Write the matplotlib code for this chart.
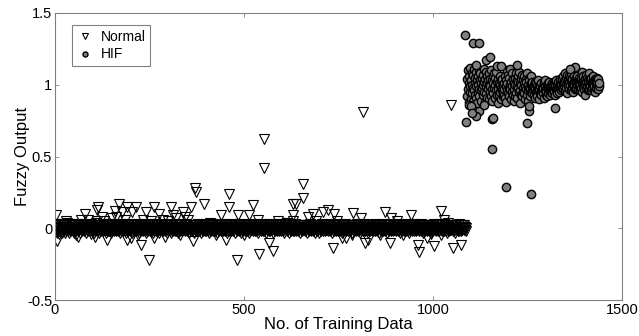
import numpy as np
import matplotlib
matplotlib.use('Agg')
import matplotlib.pyplot as plt

plt.rcParams['font.family'] = ['Liberation Sans', 'DejaVu Sans']

# Normal: dense band around 0, one value per sample (in hundredths)
normal_band = np.array([
    2, -1, 0, 3, -2, 1, -3, 0, 2, -1, 1, -4, 2, 0, -2, 3, -1, 1, 0, -3, 1, 2, -2, 0, 3, -1, -3, 1, 0, 2,
    -2, 1, 4, -1, 0, -2, 2, 1, -3, 0, 1, -1, 2, -2, 0, 3, -1, 1, -2, 0, 2, -3, 1, 0, -1, 2, -2, 1, 0, -1,
    3, 0, -2, 1, -1, 2, 0, -3, 1, 2, -1, 0, -2, 1, 3, -1, 0, 2, -2, -1, 1, 0, -3, 2, 1, -1, 0, 2, -2, 1,
    0, -1, 2, -2, 1, 3, 0, -1, -2, 1, 2, 0, -3, 1, -1, 2, 0, -2, 4, -1, 1, 0, -2, 2, -1, 1, 0, -3, 2, 0,
    -1, 1, 2, -2, 0, 1, -1, 3, -2, 0, 2, -1, 1, 0, -3, 2, -1, 0, 1, -2, 3, 0, -1, 2, -2, 1, 0, -1, 2, -3,
    1, 0, -2, 2, -1, 0, 3, -2, 1, -1, 0, 2, -2, 1, 0, -1, 3, -2, 0, 1, -1, 2, -3, 0, 1, -2, 2, 0, -1, 1,
    -2, 3, 0, -1, 2, -2, 1, 0, -3, 2, -1, 1, 0, 2, -2, -1, 1, 3, 0, -2, 1, -1, 2, 0, -3, 1, 0, 2, -1, -2,
    2, 0, -1, 1, -2, 3, -1, 0, 2, -2, 1, -3, 0, 2, -1, 1, 0, -2, 2, -1, 0, 3, -2, 1, -1, 0, 2, -2, 1, 0,
    -1, 2, -3, 1, 0, -2, 2, -1, 1, 0, -2, 3, -1, 0, 1, -2, 2, 0, -1, -3, 1, 2, 0, -2, 1, -1, 3, 0, -2, 1,
    0, -2, 1, 2, -1, 0, -3, 2, 1, -1, 0, 2, -2, 1, -1, 0, 3, -2, 1, 0, -1, 2, -2, 0, 1, -3, 2, -1, 0, 1,
    1, -1, 0, 2, -2, 1, 0, -3, 2, -1, 0, 1, -2, 3, 0, -1, 1, -2, 0, 2, -2, 0, 1, -1, 2, -3, 0, 1, -1, 2,
    0, -2, 1, -1, 3, 0, -2, 1, 0, -1, 0, 2, -1, 1, -2, 0, 3, -1, 0, -2, 2, 1, -1, 0, -3, 1, 2, -1, 0, 1,
    -1, 1, 0, -2, 2, -1, 0, 1, -3, 2, 0, -1, 2, -2, 1, 0, -1, 3, -2, 0, 1, 0, -2, 2, -1, 0, 1, -3, 2, 0,
    -1, 1, -2, 2, 0, -1, 3, -2, 1, 0, -2, 1, 0, -1, 2, -2, 1, 0, -3, 2, -1, 1, 0, -2, 2, -1, 0, 1, -2, 3,
    0, -1, 2, -2, 1, 0, -1, 2, -3, 1, 0, 2, -1, -2, 1, 0, 2, -1, 0, -2, 1, -1, 2, 0, -2, 1, -1, 3, 0, -2,
    1, -1, 2, 0, -3, 1, 0, 2, -1, 1, -2, 0, 1, 2, -1, 0, -2, 3, 1, -1, 0, -2, 2, 1, -1, 0, -3, 2, 0, 1,
    2, -2, 0, 1, -1, 3, 0, -2, 1, -1, 2, 0, -3, 1, 0, -1, 2, -2, 0, 1, -1, 2, 0, -2, 1, 0, -1, 3, -2, 0,
    1, -1, 2, -3, 1, 0, -2, 2, -1, 0, -1, 0, 1, -2, 2, 0, -1, 3, -2, 1, 0, -1, 2, -2, 0, 1, -3, 2, -1, 0,
    0, 1, -1, 2, -2, 0, 1, -1, 3, -2, 0, 1, -2, 2, -1, 0, 1, -3, 2, 0, -1, 2, -1, 0, 1, -2, 3, -1, 0, 2,
    -2, 0, 1, -1, 2, 0, -3, 1, 2, -1, 0, -2, 1, 0, 2, -1, 3, -2, 0, 1, -1, 0, 2, -2, 1, -1, 0, 3, -2, 1,
    1, 0, -1, 2, -2, 1, 0, -3, 1, 2, -1, 0, 2, -2, 1, 0, -1, 2, -3, 0, 1, -1, 2, 0, -2, 1, 3, -1, 0, -2,
    -1, 2, 0, -2, 1, -1, 3, 0, -2, 1, 0, -1, 2, -2, 0, 1, -1, 2, -3, 1, 0, 2, -1, 0, -2, 1, -1, 2, 0, -1,
    0, -2, 2, 1, -1, 0, -3, 2, 0, 1, -1, 2, -2, 0, 1, 3, -1, 0, -2, 2, -1, 1, 0, -2, 2, 0, -1, 1, -3, 2,
    2, -1, 0, 1, -2, 2, 0, -1, 1, -3, 0, 2, -1, 1, 0, -2, 3, -1, 0, 1, -2, 2, 0, -1, 2, -2, 1, 0, -1, 2,
    -1, 0, 2, -2, 1, 0, -1, 3, -2, 0, 1, -1, 2, 0, -3, 1, -1, 2, 0, -2, 1, 0, -1, 2, -2, 3, 0, -1, 1, -2,
    0, 2, -1, 1, -2, 0, 1, -1, 2, -3, 1, 0, -1, 2, -2, 0, 1, 3, -1, -2, 0, 1, -1, 2, 0, -2, 1, -1, 2, 0,
    1, -2, 0, 2, -1, 1, -3, 0, 2, -1, 0, 1, -2, 2, 0, -1, 1, -2, 3, 0, -1, 2, -2, 1, 0, -1, 2, 0, -3, 1,
    -2, 1, 0, -1, 2, -2, 1, 3, -1, 0, -2, 1, 2, -1, 0, 1, -2, 0, 2, -3, 1, 0, -1, 2, -2, 1, 0, -1, 2, -1,
    0, 1, -2, 2, -1, 0, 3, -2, 1, -1, 0, 2, -1, -2, 1, 0, 2, -3, 1, 0, -1, 2, -2, 0, 1, -1, 3, -2, 0, 1,
    1, -1, 2, 0, -2, 1, -1, 0, 2, -3, 1, 0, -1, 2, -2, 1, 0, 3, -1, -2, 0, 1, -1, 2, 0, -2, 1, -1, 2, 0,
    -1, 2, -2, 0, 1, -1, 3, 0, -2, 1, -1, 2, 0, -3, 1, 2, -1, 0, 1, -2, 2, -1, 0, 1, -2, 3, 0, -1, 2, -2,
    0, -1, 1, 2, -2, 0, 1, -3, 2, -1, 0, 1, -1, 2, -2, 0, 3, -1, 1, 0, -2, 2, -1, 0, 1, -2, 2, 0, -1, 1,
    2, 0, -2, 1, -1, 2, 0, -1, 3, -2, 0, 1, -1, 2, -3, 0, 1, 2, -1, 0, -2, 1, 0, -1, 2, -2, 1, 0, -1, 2,
    -2, 1, 0, -1, 2, 0, -3, 1, -1, 2, 0, -2, 1, 3, -1, 0, 1, -2, 2, -1, 0, 1, -2, 2, 0, -1, 3, -2, 1, 0,
    1, -1, 0, 2, -2, 1, -1, 0, 3, -2, 1, 0, -1, 2, -2, 0, 1, -3, 2, 0, -1, 1, 2, -2, 0, 1, -1, 2, -1, 0,
    0, 2, -1, 1, -2, 0, 1, -1, 2, -3, 1, 0, 2, -1, 0, -2, 1, -1, 3, 0, -2, 1, 0, -1, 2, -2, 1, 0, -1, 2,
    1, -1, 0, 2, -1, 1, 0, -2]) / 100.0

# Normal: scattered points away from the band
normal_out_x = [2, 4, 80, 115, 112, 88, 112, 106, 170, 191, 214, 178, 205, 240, 161,
                138, 191, 200, 227, 249, 262, 275, 262, 290, 307, 312, 338, 360, 364,
                371, 372, 395, 439, 461, 461, 483, 452, 481, 513, 523, 536, 552, 554,
                565, 541, 576, 630, 638, 656, 656, 630, 630, 670, 683, 708, 721, 739,
                788, 872, 810, 888, 943, 1022, 1030, 1040, 735, 760, 769, 785, 819, 829,
                885, 920, 963, 960, 985, 1002, 1022, 1053, 1075, 815, 1047,
                30, 55, 70, 95, 130, 150, 185, 220, 255, 285, 320, 345, 330, 60, 125,
                158, 232, 300, 352, 410, 425, 500, 590, 615, 690, 745, 860, 905, 995]
normal_out_y = [0.09, -0.09, 0.10, 0.15, 0.125, 0.06, 0.05, -0.06, 0.17, 0.15, 0.15, 0.11,
                0.11, 0.11, 0.08, -0.08, -0.08, -0.07, -0.12, -0.22, 0.15, 0.10, -0.07,
                -0.06, 0.15, 0.09, 0.11, 0.15, -0.09, 0.28, 0.25, 0.17, 0.09, 0.24, 0.15,
                0.09, -0.08, -0.22, 0.09, 0.16, 0.06, 0.62, 0.42, -0.10, -0.18, -0.16,
                0.17, 0.17, 0.31, 0.21, 0.09, 0.05, 0.08, 0.10, 0.11, 0.13, 0.10, 0.105,
                0.11, 0.07, 0.07, 0.09, 0.12, 0.06, 0.04, -0.14, -0.07, -0.07, -0.05,
                -0.10, -0.085, -0.10, -0.05, -0.165, -0.12, -0.07, -0.125, -0.05,
                -0.14, -0.12, 0.81, 0.86,
                0.05, -0.05, 0.06, -0.04, 0.05, 0.07, 0.06, -0.05, 0.05, 0.06, 0.07, 0.08,
                -0.05, -0.06, 0.08, 0.12, 0.06, 0.05, 0.06, 0.04, -0.05, -0.05, 0.05,
                0.04, 0.05, 0.05, -0.05, 0.05, -0.04]

# HIF: dense cloud around 1, one value per sample (in hundredths)
hif_band = np.array([
    104, 92, 110, 97, 88, 101, 106, 95, 112, 99, 90, 103, 108, 94, 100, 107, 89, 98, 111, 96, 102, 93, 105, 109, 91,
    99, 104, 87, 106, 100, 95, 110, 97, 92, 103, 108, 96, 101, 89, 105, 98, 107, 93, 100, 111, 95, 102, 88, 104, 99,
    109, 94, 101, 106, 91, 97, 103, 90, 108, 100, 95, 104, 99, 92, 110, 97, 103, 89, 106, 101, 94, 108, 98, 91, 105,
    100, 96, 109, 93, 102, 113, 87, 104, 97, 101, 93, 106, 95, 100, 90, 103, 98, 96, 104, 92, 99, 95, 101, 93, 97,
    106, 91, 99, 103, 88, 110, 96, 101, 94, 107, 98, 92, 105, 100, 97, 111, 90, 102, 95, 108, 99, 93, 104, 89, 101,
    97, 105, 92, 100, 108, 94, 103, 99, 91, 106, 98, 102, 95, 109, 87, 101, 96, 104, 93, 100, 107, 92, 98, 103, 95,
    101, 94, 106, 90, 99, 104, 97, 102, 93, 108, 96, 100, 89, 105, 98, 103, 92, 97, 101, 95, 106, 99, 94, 102, 98,
    96, 100, 93, 98, 102, 91, 97, 95, 101, 94, 99, 92, 98, 103, 96, 90, 97, 100, 94, 99, 95, 101, 93, 97, 96,
    99, 94, 98, 102, 91, 96, 99, 103, 93, 97, 95, 100, 92, 98, 101, 94, 99, 96, 102, 97, 93, 100, 95, 98, 101,
    97, 94, 100, 96, 102, 98, 95, 101, 93, 99, 97, 103, 96, 100, 94, 98, 102, 97, 99, 95, 101, 104, 98, 100, 96,
    103, 98, 104, 101, 97, 106, 99, 102, 108, 96, 103, 100, 105, 98, 107, 94, 101, 104, 99, 106, 102, 97, 105, 100, 103,
    96, 108, 101, 98, 104, 100, 95, 106, 102, 99, 103, 97, 105, 101, 98, 104, 100, 106, 97, 102, 99, 105, 101, 96, 103,
    100, 104, 98, 102, 109, 95, 103, 99, 106, 101, 97, 104, 100, 93, 107, 102, 98, 105, 99, 103, 96, 101, 108, 100, 97,
    104, 99, 102, 96, 105, 101, 98, 103, 100, 106, 97, 102, 99, 104, 95, 101, 103, 98, 105, 100, 102, 97, 104, 99, 101]) / 100.0

# HIF: scattered points
hif_out_x = [1084, 1106, 1122, 1140, 1150, 1115, 1088, 1123, 1115, 1155, 1159, 1155, 1193,
             1258, 1249, 1323, 1253, 1253, 1095, 1100, 1102, 1135, 1181, 1221, 1376, 1363]
hif_out_y = [1.345, 1.29, 1.29, 1.175, 1.19, 1.14, 0.74, 0.82, 0.78, 0.76, 0.77, 0.555, 0.29,
             0.24, 0.73, 0.84, 0.82, 0.85, 0.86, 0.85, 0.80, 0.86, 1.13, 1.135, 1.125, 1.11]

normal_x = np.concatenate([np.arange(len(normal_band)), normal_out_x])
normal_y = np.concatenate([normal_band, normal_out_y])
hif_x = np.concatenate([1090 + np.arange(len(hif_band)), hif_out_x])
hif_y = np.concatenate([hif_band, hif_out_y])

fig = plt.figure(figsize=(6.39, 3.36), dpi=100)
ax = fig.add_axes([55 / 639, 1 - 300 / 336, 567 / 639, 287 / 336])

ax.plot(normal_x, normal_y, 'v', ms=6.5, mfc='none', mec='black', mew=0.8,
        linestyle='none', label='Normal')
ax.plot(hif_x, hif_y, 'o', ms=6, mfc='#808080', mec='black', mew=1.0,
        linestyle='none', label='HIF')

ax.set_xlim(0, 1500)
ax.set_ylim(-0.5, 1.5)
ax.set_xticks([0, 500, 1000, 1500])
ax.set_yticks([-0.5, 0, 0.5, 1, 1.5])
ax.set_xticklabels(['0', '500', '1000', '1500'])
ax.set_yticklabels(['-0.5', '0', '0.5', '1', '1.5'])
ax.tick_params(direction='in', top=True, right=True, length=3, width=0.6,
               colors='#808080', labelcolor='black', labelsize=10.5, pad=2)
for s in ax.spines.values():
    s.set_color('#808080')
    s.set_linewidth(0.8)

ax.set_xlabel('No. of Training Data', fontsize=12, labelpad=0)
ax.set_ylabel('Fuzzy Output', fontsize=12, labelpad=-2)

leg = ax.legend(loc='upper left', bbox_to_anchor=(0.03, 0.958), borderaxespad=0,
                fontsize=10, markerscale=0.6, fancybox=False, framealpha=1,
                edgecolor='#808080', handlelength=1.2, handletextpad=0.5,
                borderpad=0.35, labelspacing=0.25)
leg.get_frame().set_linewidth(0.8)

fig.savefig('out.png', dpi=100)
